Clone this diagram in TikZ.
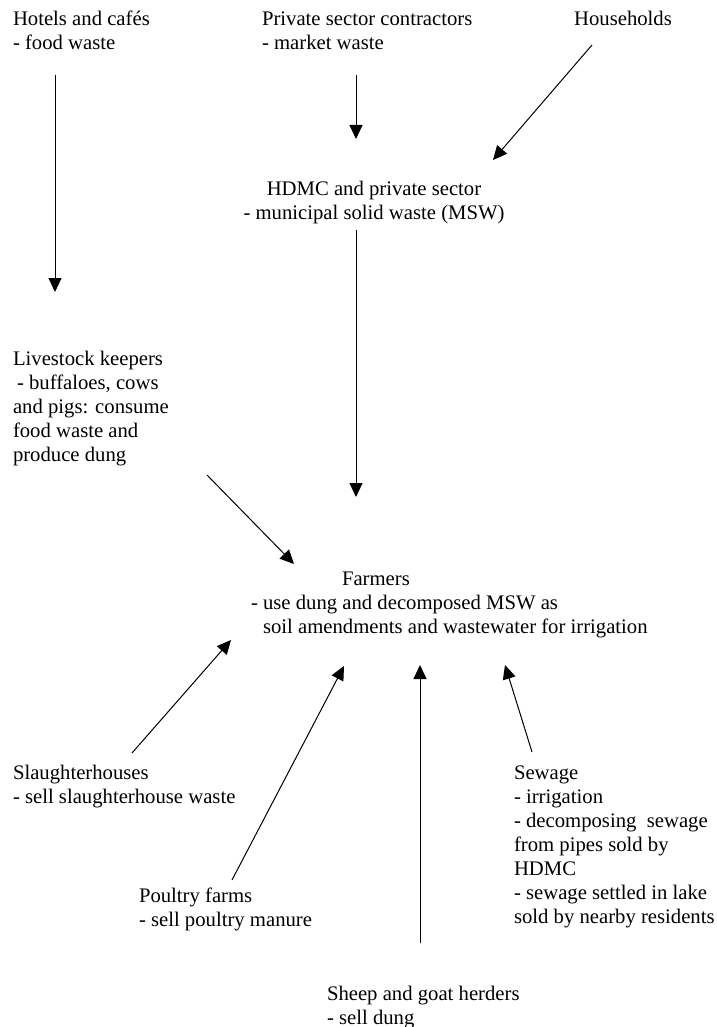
\documentclass[tikz,border=0pt]{standalone}
\usepackage{fontspec}
\setmainfont{Liberation Serif}
\usetikzlibrary{arrows.meta}
\begin{document}
\begin{tikzpicture}[x=1pt,y=-1pt,
  lbl/.style={inner sep=0pt, outer sep=0pt, align=left, anchor=base west,
    font=\fontsize{20.7pt}{24pt}\selectfont},
  flow/.style={line width=1pt, -{Triangle[length=14pt,width=13pt]}}]
\useasboundingbox (0,0) rectangle (716,1027);
% text nodes (anchored at the baseline of their last line)
\node[lbl] (hotels) at (13,50) {Hotels and cafés\\- food waste};
\node[lbl] (private) at (262,50) {Private sector contractors\\- market waste};
\node[lbl, anchor=base] (house) at (623,26) {Households};
\node[lbl, align=center, anchor=base] (hdmc) at (374,219) {HDMC and private sector\\- municipal solid waste (MSW)};
\node[lbl] (live) at (13,461) {Livestock keepers\\\hspace{4pt}- buffaloes, cows\\and pigs: consume\\food waste and\\produce dung};
\node[lbl] (farm) at (251,633) {\hspace{91pt}Farmers\\- use dung and decomposed MSW as\\\phantom{- }soil amendments and wastewater for irrigation};
\node[lbl] (slaught) at (13,803) {Slaughterhouses\\- sell slaughterhouse waste};
\node[lbl] (poultry) at (139,926) {Poultry farms\\- sell poultry manure};
\node[lbl] (sewage) at (514,923) {Sewage\\- irrigation\\- decomposing\ \ sewage\\from pipes sold by\\HDMC\\- sewage settled in lake\\sold by nearby residents};
\node[lbl] (sheep) at (327,1024) {Sheep and goat herders\\- sell dung};
% connector end points
\coordinate (hotels-out) at (55,75);
\coordinate (live-in) at (55,292);
\coordinate (private-out) at (356,75);
\coordinate (hdmc-in1) at (356,139);
\coordinate (house-out) at (592,45);
\coordinate (hdmc-in2) at (493,160);
\coordinate (hdmc-out) at (356,230);
\coordinate (farm-in1) at (356,497);
\coordinate (live-out) at (207,475);
\coordinate (farm-in2) at (294,564);
\coordinate (slaught-out) at (132,753);
\coordinate (farm-in3) at (231,640);
\coordinate (poultry-out) at (232,880);
\coordinate (farm-in4) at (344,666);
\coordinate (sheep-out) at (420,943);
\coordinate (farm-in5) at (420,665);
\coordinate (sewage-out) at (532,752);
\coordinate (farm-in6) at (505,665);
% connectors
\draw[flow] (hotels-out) -- (live-in);
\draw[flow] (private-out) -- (hdmc-in1);
\draw[flow] (house-out) -- (hdmc-in2);
\draw[flow] (hdmc-out) -- (farm-in1);
\draw[flow] (live-out) -- (farm-in2);
\draw[flow] (slaught-out) -- (farm-in3);
\draw[flow] (poultry-out) -- (farm-in4);
\draw[flow] (sheep-out) -- (farm-in5);
\draw[flow] (sewage-out) -- (farm-in6);
\end{tikzpicture}
\end{document}
